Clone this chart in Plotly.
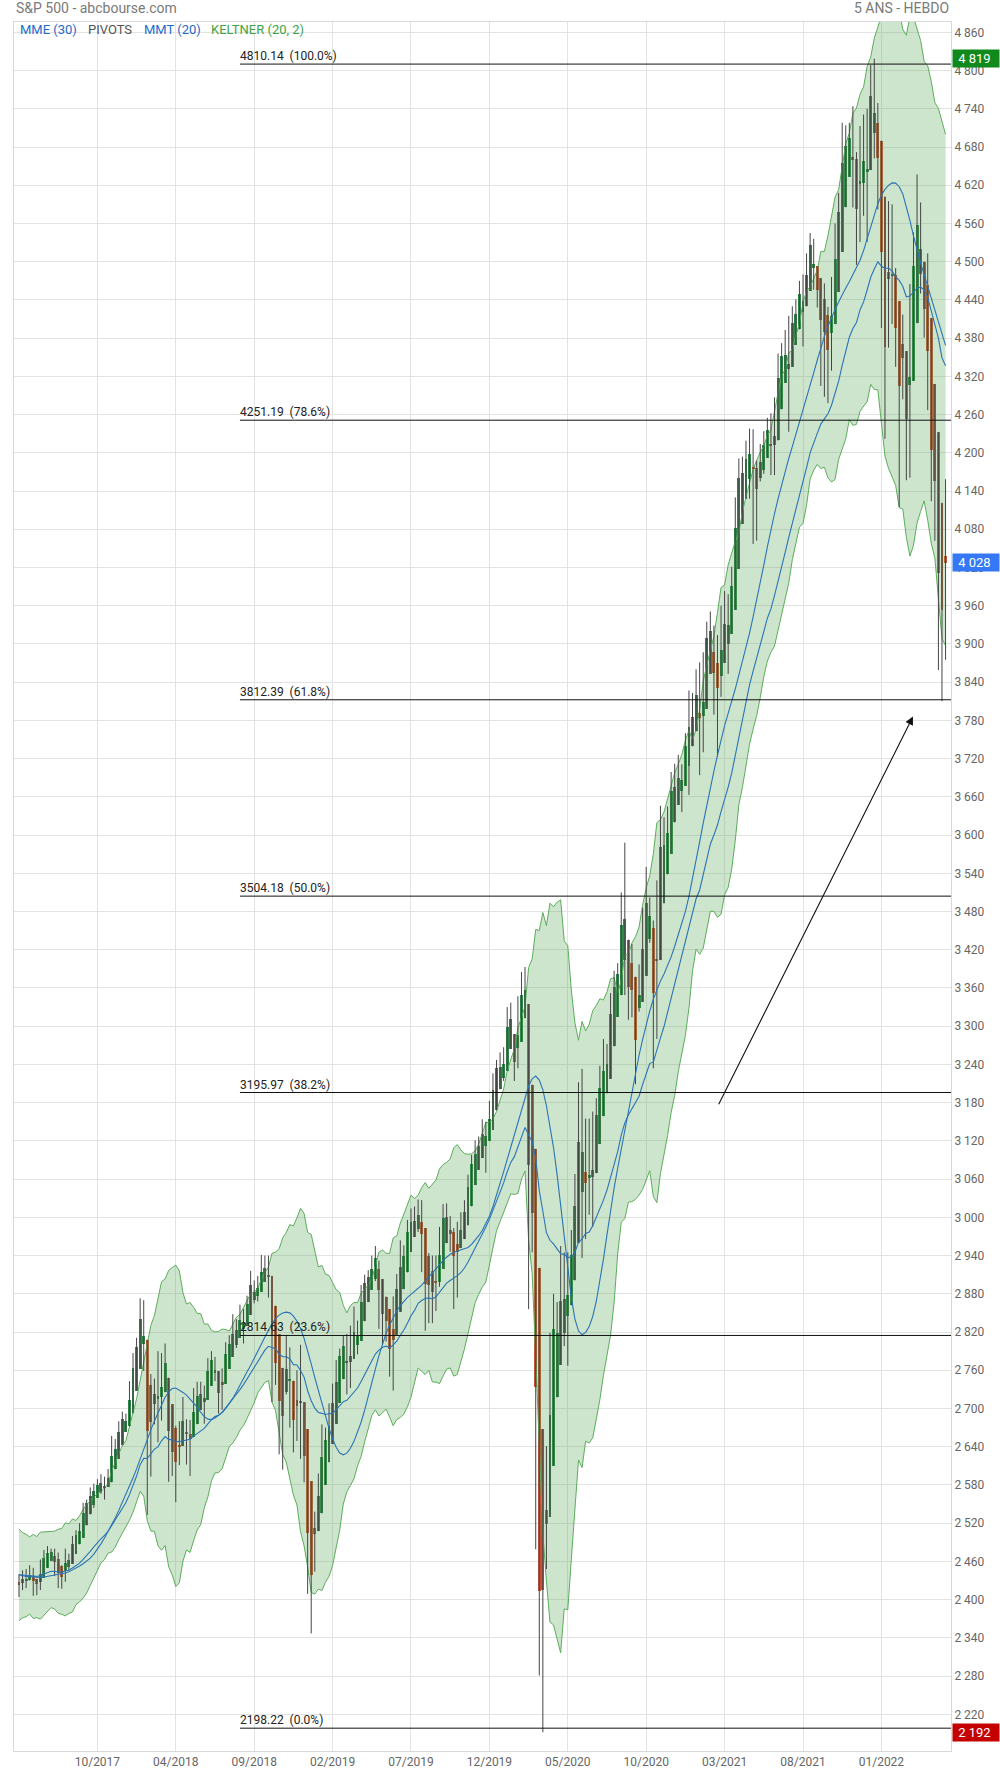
import numpy as np
import pandas as pd
import plotly.graph_objects as go

# ---------------- data: S&P 500 weekly OHLC (chart draws Heikin-Ashi candles) ----------------
START_WEEK = "2017-05-29"

opens = [
    2415, 2437, 2432, 2434, 2439, 2431, 2424, 2459, 2473, 2475, 2478, 2450, 2429, 2444, 2470, 2474, 2500, 2503, 2521, 2549, 2554, 2578, 2575, 2588, 2580, 2580, 2602, 2639, 2652, 2685, 2683,
    2683, 2746, 2798, 2810, 2867, 2741, 2637, 2722, 2750, 2681, 2790, 2742, 2619, 2634, 2611, 2671, 2675, 2668, 2664, 2722, 2725, 2720, 2741, 2780, 2765, 2743, 2724, 2768, 2797, 2805, 2819, 2840, 2827, 2853, 2884, 2896, 2874, 2903, 2927, 2926, 2887, 2763, 2773, 2667, 2727, 2773, 2731, 2649, 2790, 2630, 2590, 2401, 2498,
    2535, 2582, 2657, 2644, 2706, 2711, 2780, 2798, 2814, 2747, 2822, 2797, 2848, 2896, 2908, 2898, 2941, 2909, 2841, 2841, 2831, 2752, 2886, 2889, 2951, 2971, 2980, 3012, 2981, 3024, 2898, 2907, 2913, 2866, 2910, 2988, 3001, 2984, 2967, 2944, 2974, 2994, 3032, 3078, 3081, 3118, 3117, 3144, 3141, 3183, 3225, 3240,
    3218, 3271, 3333, 3248, 3236, 3318, 3369, 3257, 2974, 2863, 2508, 2290, 2498, 2578, 2782, 2846, 2855, 2815, 2939, 2913, 2990, 3038, 3199, 2994, 3095, 3018, 3155, 3206, 3224, 3219, 3289, 3356, 3381, 3419, 3507, 3370, 3364, 3285, 3326, 3367, 3500, 3494, 3441, 3296, 3583, 3600, 3566, 3654, 3694, 3675, 3694, 3723,
    3764, 3803, 3797, 3857, 3732, 3892, 3939, 3886, 3842, 3844, 3942, 3916, 3969, 4034, 4139, 4179, 4186, 4192, 4228, 4169, 4170, 4217, 4230, 4248, 4174, 4284, 4344, 4372, 4297, 4409, 4407, 4438, 4462, 4450, 4514, 4535, 4474, 4406, 4450, 4348, 4385, 4463, 4553, 4610, 4701, 4689, 4712, 4628, 4548, 4710, 4587, 4733,
    4778, 4655, 4632, 4357, 4431, 4506, 4412, 4332, 4364, 4327, 4188, 4462, 4541, 4548, 4462, 4385, 4256, 4130, 4081, 4013, 3919.42,
]
highs = [
    2440, 2446, 2448, 2454, 2450, 2433, 2463, 2478, 2484, 2480, 2480, 2474, 2454, 2480, 2472, 2500, 2509, 2520, 2552, 2557, 2576, 2582, 2589, 2597, 2593, 2605, 2657, 2652, 2680, 2695, 2692,
    2743, 2787, 2811, 2873, 2870, 2763, 2754, 2747, 2790, 2787, 2802, 2742, 2675, 2673, 2680, 2718, 2683, 2682, 2732, 2742, 2742, 2736, 2779, 2790, 2781, 2747, 2763, 2804, 2815, 2848, 2840, 2863, 2856, 2877, 2916, 2901, 2908, 2941, 2940, 2940, 2894, 2817, 2785, 2756, 2815, 2796, 2733, 2760, 2800, 2685, 2601, 2520, 2538,
    2598, 2675, 2670, 2708, 2739, 2776, 2794, 2814, 2817, 2830, 2860, 2838, 2894, 2910, 2917, 2940, 2955, 2932, 2892, 2875, 2841, 2876, 2911, 2964, 2956, 2996, 3014, 3017, 3028, 3027, 2945, 2944, 2940, 2940, 2985, 3021, 3022, 3002, 2983, 2993, 3008, 3027, 3067, 3098, 3121, 3127, 3154, 3150, 3183, 3226, 3247, 3259,
    3267, 3330, 3337, 3285, 3347, 3385, 3393, 3260, 3137, 2883, 2563, 2637, 2641, 2819, 2880, 2867, 2955, 2945, 2945, 2980, 3068, 3212, 3233, 3155, 3155, 3166, 3187, 3238, 3280, 3272, 3352, 3387, 3399, 3510, 3588, 3425, 3429, 3321, 3397, 3486, 3550, 3502, 3466, 3529, 3646, 3628, 3645, 3699, 3712, 3726, 3711, 3760,
    3827, 3823, 3860, 3871, 3887, 3935, 3951, 3929, 3914, 3960, 3983, 3978, 4021, 4130, 4191, 4194, 4219, 4238, 4237, 4188, 4214, 4234, 4255, 4262, 4287, 4356, 4372, 4393, 4415, 4430, 4441, 4470, 4480, 4513, 4545, 4536, 4486, 4466, 4466, 4429, 4476, 4560, 4608, 4718, 4714, 4718, 4744, 4672, 4713, 4731, 4740, 4808.93,
    4818.62, 4749, 4632, 4453, 4595, 4590, 4490, 4386, 4417, 4327, 4465, 4546, 4637, 4593, 4471, 4513, 4308, 4308, 4081, 4091, 4158.49,
]
lows = [
    2404, 2415, 2418, 2430, 2406, 2407, 2415, 2455, 2461, 2467, 2437, 2418, 2417, 2428, 2446, 2474, 2496, 2489, 2520, 2545, 2547, 2544, 2566, 2566, 2557, 2578, 2598, 2605, 2647, 2673, 2673,
    2683, 2737, 2767, 2808, 2759, 2533, 2593, 2675, 2647, 2681, 2741, 2585, 2594, 2553, 2611, 2660, 2612, 2594, 2655, 2701, 2703, 2676, 2734, 2758, 2743, 2692, 2698, 2768, 2788, 2795, 2795, 2821, 2802, 2853, 2876, 2865, 2868, 2885, 2903, 2874, 2710, 2737, 2628, 2604, 2722, 2670, 2631, 2649, 2621, 2584, 2409, 2347, 2444,
    2524, 2570, 2612, 2631, 2681, 2704, 2765, 2775, 2722, 2732, 2800, 2785, 2835, 2875, 2893, 2898, 2900, 2825, 2801, 2805, 2750, 2728, 2868, 2886, 2911, 2952, 2963, 2970, 2977, 2914, 2822, 2834, 2834, 2853, 2891, 2980, 2990, 2946, 2856, 2874, 2952, 2991, 3023, 3066, 3074, 3091, 3113, 3070, 3124, 3167, 3223, 3212,
    3214, 3263, 3281, 3214, 3234, 3315, 3328, 2856, 2945, 2479, 2281, 2191.86, 2448, 2575, 2762, 2727, 2831, 2798, 2767, 2913, 2970, 3032, 2936, 2966, 3004, 2985, 3115, 3142, 3201, 3200, 3285, 3329, 3354, 3400, 3349, 3310, 3314, 3209, 3323, 3354, 3441, 3431, 3234, 3280, 3512, 3550, 3566, 3622, 3633, 3648, 3636, 3723,
    3663, 3750, 3780, 3694, 3730, 3874, 3885, 3789, 3723, 3817, 3885, 3853, 3955, 4034, 4125, 4118, 4174, 4128, 4057, 4062, 4155, 4167, 4209, 4165, 4165, 4276, 4321, 4321, 4233, 4382, 4385, 4424, 4367, 4443, 4509, 4456, 4428, 4305, 4288, 4278, 4329, 4447, 4546, 4595, 4630, 4672, 4585, 4495, 4531, 4572, 4531, 4733,
    4662, 4582, 4396, 4222, 4365, 4402, 4335, 4115, 4284, 4157, 4161, 4424, 4507, 4450, 4381, 4267, 4124, 4062, 3859, 3810, 3875.13,
]
closes = [
    2439, 2432, 2433, 2438, 2423, 2425, 2459, 2472, 2472, 2477, 2441, 2426, 2443, 2477, 2461, 2500, 2502, 2519, 2549, 2553, 2575, 2581, 2588, 2582, 2579, 2602, 2642, 2652, 2675, 2683, 2674,
    2743, 2786, 2810, 2873, 2762, 2620, 2732, 2747, 2691, 2786, 2752, 2588, 2641, 2604, 2656, 2670, 2670, 2663, 2728, 2713, 2721, 2735, 2779, 2779, 2755, 2718, 2760, 2801, 2802, 2819, 2840, 2833, 2850, 2875, 2902, 2872, 2905, 2930, 2914, 2886, 2767, 2768, 2659, 2723, 2781, 2736, 2633, 2760, 2633, 2600, 2417, 2486, 2532,
    2596, 2671, 2665, 2707, 2708, 2776, 2793, 2804, 2743, 2822, 2801, 2834, 2893, 2907, 2905, 2940, 2946, 2881, 2860, 2826, 2752, 2873, 2887, 2950, 2942, 2990, 3014, 2977, 3026, 2932, 2919, 2889, 2847, 2926, 2979, 3007, 2992, 2962, 2952, 2970, 2986, 3023, 3067, 3093, 3120, 3110, 3141, 3146, 3169, 3221, 3240, 3235,
    3265, 3330, 3295, 3226, 3328, 3380, 3338, 2954, 2972, 2711, 2305, 2541, 2489, 2790, 2875, 2837, 2831, 2930, 2864, 2955, 3044, 3194, 3041, 3098, 3009, 3130, 3185, 3225, 3216, 3271, 3351, 3373, 3397, 3508, 3427, 3341, 3319, 3298, 3348, 3477, 3484, 3465, 3270, 3510, 3585, 3558, 3638, 3699, 3663, 3709, 3703, 3756,
    3825, 3768, 3841, 3714, 3887, 3934, 3907, 3811, 3842, 3943, 3913, 3975, 4020, 4129, 4185, 4180, 4181, 4233, 4174, 4156, 4204, 4230, 4247, 4166, 4281, 4352, 4370, 4327, 4412, 4395, 4437, 4468, 4442, 4509, 4535, 4458, 4433, 4455, 4357, 4391, 4471, 4545, 4605, 4698, 4683, 4698, 4595, 4538, 4712, 4620, 4726, 4766,
    4677, 4663, 4398, 4432, 4500, 4418, 4349, 4385, 4329, 4204, 4463, 4543, 4546, 4488, 4392, 4272, 4132, 4123, 4024, 3901, 4158.24,
]

# Fibonacci retracement levels drawn on the chart
fib_levels = [4810.14, 4251.19, 3812.39, 3504.18, 3195.97, 2814.63, 2198.22]
fib_pcts = [100.0, 78.6, 61.8, 50.0, 38.2, 23.6, 0.0]
FIB_START = "2018-08-06"

# hand-drawn arrow (date, value)
ARROW_FROM = ("2021-03-02", 3175)
ARROW_TO = ("2022-03-20", 3786)

# ---------------- derived series ----------------
o = np.array(opens, float); h = np.array(highs, float)
l = np.array(lows, float); c = np.array(closes, float)
n = len(c)
dates = pd.date_range(START_WEEK, periods=n, freq="7D")
x = np.arange(n)

def widx(d):
    return (pd.Timestamp(d) - dates[0]).days / 7.0

# Heikin-Ashi candles
ha_c = (o + h + l + c) / 4
ha_o = np.empty(n)
ha_o[0] = (o[0] + c[0]) / 2
for i in range(1, n):
    ha_o[i] = (ha_o[i - 1] + ha_c[i - 1]) / 2
ha_h = np.maximum.reduce([h, ha_o, ha_c])
ha_l = np.minimum.reduce([l, ha_o, ha_c])

def ema(v, p):
    a = 2.0 / (p + 1)
    out = np.empty(len(v)); out[0] = v[0]
    for i in range(1, len(v)):
        out[i] = out[i - 1] + a * (v[i] - out[i - 1])
    return out

def sma(v, p):
    return np.array([v[max(0, i - p + 1):i + 1].mean() for i in range(len(v))])

mme30 = ema(c, 30)
mmt20 = sma(sma(c, 10), 11)
prev_c = np.concatenate([[c[0]], c[:-1]])
tr = np.maximum(h, prev_c) - np.minimum(l, prev_c)
tr[0] = h[0] - l[0]
atr = sma(tr, 10)
kmid = ema(c, 20)
kup = kmid + 2 * atr
klo = kmid - 2 * atr

# ---------------- figure ----------------
GREEN = "#2f8549"
RED = "#c4523a"
WICK = "#454545"
BLUE = "#2a73b5"
BAND = "#5cad5c"

fig = go.Figure()
fig.add_trace(go.Scatter(x=x, y=klo, mode="lines", line=dict(color=BAND, width=1), hoverinfo="skip"))
fig.add_trace(go.Scatter(x=x, y=kup, mode="lines", line=dict(color=BAND, width=1),
                         fill="tonexty", fillcolor="rgba(76,160,76,0.28)", hoverinfo="skip"))

wx, wy = [], []
for i in range(n):
    wx += [x[i], x[i], None]
    wy += [ha_l[i], ha_h[i], None]
fig.add_trace(go.Scatter(x=wx, y=wy, mode="lines", line=dict(color=WICK, width=1), hoverinfo="skip"))

body_lo = np.minimum(ha_o, ha_c)
body_h = np.maximum(np.abs(ha_c - ha_o), 1.6)
colors = [GREEN if ha_c[i] >= ha_o[i] else RED for i in range(n)]
fig.add_trace(go.Bar(x=x, y=body_h, base=body_lo, width=0.82,
                     marker=dict(color=colors, line=dict(width=0)), hoverinfo="skip"))

fig.add_trace(go.Scatter(x=x, y=mme30, mode="lines", line=dict(color=BLUE, width=1.1), hoverinfo="skip"))
fig.add_trace(go.Scatter(x=x, y=mmt20, mode="lines", line=dict(color=BLUE, width=1.1), hoverinfo="skip"))

X_MIN, X_MAX = -1.40, 261.53
Y_MIN, Y_MAX = 2162.4, 4876.2

shapes = []
annotations = []
fx0 = widx(FIB_START)
for lev, pct in zip(fib_levels, fib_pcts):
    shapes.append(dict(type="line", xref="x", yref="y", x0=fx0, x1=X_MAX, y0=lev, y1=lev,
                       line=dict(color="#111111", width=1)))
    annotations.append(dict(x=fx0, y=lev, xref="x", yref="y", xanchor="left", yanchor="bottom",
                            text=f"{lev:.2f}\u00a0\u00a0({pct:.1f}%)", showarrow=False,
                            font=dict(family="Roboto", size=12, color="#222222"),
                            borderpad=0, yshift=0, xshift=-1))

# arrow
annotations.append(dict(x=widx(ARROW_TO[0]), y=ARROW_TO[1], ax=widx(ARROW_FROM[0]), ay=ARROW_FROM[1],
                        xref="x", yref="y", axref="x", ayref="y", text="", showarrow=True,
                        arrowhead=2, arrowsize=1.5, arrowwidth=1.1, arrowcolor="#111111"))

def fmt(v):
    return f"{int(round(v)):,}".replace(",", " ")

# right-side value boxes
for val, bg in [(ha_h.max(), "#118a1d"), (ha_c[-1], "#3478f6"), (ha_l.min(), "#c40000")]:
    annotations.append(dict(x=1, y=val, xref="paper", yref="y", xanchor="left", yanchor="middle",
                            xshift=1, text="\u00a0" + fmt(val), showarrow=False, align="left",
                            bgcolor=bg, width=42, height=13, borderpad=2,
                            font=dict(family="Roboto", size=13, color="white")))

# header texts
PLOT_H = 1774 - 22 - 23
annotations.append(dict(x=0, y=1 + 13.5 / PLOT_H, xref="paper", yref="paper", xanchor="left", yanchor="middle",
                        text="S&P 500 - abcbourse.com", showarrow=False,
                        font=dict(family="Roboto", size=14, color="#7a7a7a")))
annotations.append(dict(x=1, y=1 + 13.5 / PLOT_H, xref="paper", yref="paper", xanchor="right", yanchor="middle",
                        text="5 ANS - HEBDO", showarrow=False,
                        font=dict(family="Roboto", size=14, color="#7a7a7a")))
legend_items = [("MME (30)", "#1f6ccc", 0.0040), ("PIVOTS", "#555555", 0.0765),
                ("MMT (20)", "#1f6ccc", 0.1363), ("KELTNER (20, 2)", "#3ea447", 0.2078)]
for txt, col, px in legend_items:
    annotations.append(dict(x=px, y=1 - 7.5 / PLOT_H, xref="paper", yref="paper", xanchor="left",
                            yanchor="middle", text=txt, showarrow=False,
                            font=dict(family="Roboto", size=13, color=col)))

tickvals = list(range(22, n, 22))
ticktext = [dates[i].strftime("%m/%Y") for i in tickvals]

fig.update_layout(
    width=1000, height=1774,
    margin=dict(l=14, r=49, t=22, b=23, autoexpand=False),
    paper_bgcolor="white", plot_bgcolor="white",
    showlegend=False, separators=". ",
    font=dict(family="Roboto", size=12, color="#666666"),
    shapes=shapes, annotations=annotations,
    bargap=0, hovermode=False,
    xaxis=dict(range=[X_MIN, X_MAX], tickvals=tickvals, ticktext=ticktext, automargin=False,
               showgrid=True, gridcolor="#e3e3e3", gridwidth=1, zeroline=False,
               showline=True, linecolor="#d8d8d8", mirror=True, ticks="",
               tickfont=dict(family="Roboto", size=12, color="#666666")),
    yaxis=dict(range=[Y_MIN, Y_MAX], side="right", tick0=2220, dtick=60, tickformat=",d", automargin=False,
               showgrid=True, gridcolor="#e3e3e3", gridwidth=1, zeroline=False,
               showline=True, linecolor="#d8d8d8", mirror=True, ticks="",
               tickfont=dict(family="Roboto", size=12, color="#666666")),
)

fig.write_html("out.html", config={"displayModeBar": False},
               post_script="document.body.style.margin='0';document.body.style.overflow='hidden';")
